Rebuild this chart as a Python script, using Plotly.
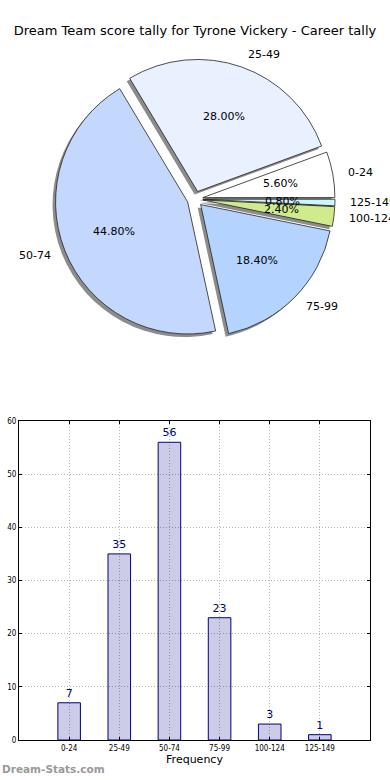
import math
import plotly.graph_objects as go

categories = ["0-24", "25-49", "50-74", "75-99", "100-124", "125-149"]
counts = [7, 35, 56, 23, 3, 1]
slice_colors = ["#ffffff", "#e9f1fe", "#c4d8fe", "#b4d4ff", "#d0eb8c", "#ccf6ff"]
title_text = "Dream Team score tally for Tyrone Vickery - Career tally"
y_ticks = [0, 10, 20, 30, 40, 50, 60]

W, H = 390, 780
FONT = "DejaVu Sans"

total = sum(counts)
# first slice starts at 3 o'clock and runs counter-clockwise (matplotlib style)
start_rot = 90 - 360 * counts[0] / total
# mid-angle of each slice (degrees, from 3 o'clock, counter-clockwise)
mid_theta = []
acc = 0
for c in counts:
    mid_theta.append(360 * (acc + c / 2) / total)
    acc += c
pct_text = [f"{100 * c / total:.2f}%" for c in counts]

EXPLODE = 0.06
cx, cy, half = 195, 199, 140
def dom(cx, cy, half):
    return dict(x=[(cx - half) / W, (cx + half) / W],
                y=[(H - cy - half) / H, (H - cy + half) / H])

pull = [EXPLODE] * len(categories)

fig = go.Figure()

# shadow
fig.add_trace(go.Pie(
    labels=categories, values=counts, sort=False, direction="counterclockwise",
    rotation=start_rot, pull=pull, domain=dom(cx - 3, cy + 3, half),
    marker=dict(colors=["#8c8c8c"] * 6, line=dict(width=0)),
    textinfo="none", hoverinfo="skip", showlegend=False,
))
# main pie
fig.add_trace(go.Pie(
    labels=categories, values=counts, sort=False, direction="counterclockwise",
    rotation=start_rot, pull=pull, domain=dom(cx, cy, half),
    marker=dict(colors=slice_colors, line=dict(color="#222222", width=0.8)),
    textinfo="none", showlegend=False,
))

# bar chart
fig.add_trace(go.Bar(
    x=categories, y=counts, width=0.45,
    marker=dict(color="rgba(0,0,128,0.2)", line=dict(color="#000080", width=1)),
    text=[str(c) for c in counts], textposition="outside",
    textfont=dict(family=FONT, size=11, color="#000080"),
    cliponaxis=False, xaxis="x", yaxis="y", showlegend=False,
))

# pie text labels placed on a hidden axis pair overlaying the pie (unit = pie radius)
annotations = []
for cat, pct, t in zip(categories, pct_text, mid_theta):
    ca, sa = math.cos(math.radians(t)), math.sin(math.radians(t))
    rp = 0.6 + EXPLODE
    annotations.append(dict(text=pct, xref="x2", yref="y2", x=rp * ca, y=rp * sa,
                            xanchor="center", yanchor="middle", showarrow=False,
                            font=dict(family=FONT, size=11, color="#000000")))
    rl = 1.1 + EXPLODE
    annotations.append(dict(text=cat, xref="x2", yref="y2", x=rl * ca, y=rl * sa,
                            xanchor="left" if ca >= 0 else "right", yanchor="middle",
                            showarrow=False,
                            font=dict(family=FONT, size=11, color="#000000")))
annotations.append(dict(text="<b>Dream-Stats.com</b>", xref="paper", yref="paper",
                        x=0, y=3 / H, xanchor="left", yanchor="bottom", showarrow=False,
                        font=dict(family=FONT, size=10.5, color="#999999")))

# label axes: same centre as the pie, unit length = pie radius, wide enough for labels
radius_px = half / (1 + EXPLODE)
lim = 1.3
ld = dom(cx, cy, radius_px * lim)

fig.update_layout(
    width=W, height=H,
    margin=dict(l=0, r=0, t=0, b=0, autoexpand=False),
    paper_bgcolor="white", plot_bgcolor="rgba(0,0,0,0)",
    font=dict(family=FONT, color="#000000"),
    title=dict(text=title_text, x=0.5, xanchor="center", y=1 - 30 / H, yanchor="middle",
               font=dict(family=FONT, size=13, color="#000000")),
    xaxis=dict(domain=[19 / W, 370 / W], range=[-1, 6], type="category",
               showline=True, linecolor="#000000", linewidth=1, mirror="ticks",
               showgrid=True, gridcolor="#b4b4b4", griddash="1px,2px", gridwidth=1,
               ticks="inside", ticklen=3, tickcolor="#000000",
               tickfont=dict(family="DejaVu Sans Condensed", size=8),
               title=dict(text="Frequency", font=dict(family=FONT, size=11), standoff=2),
               automargin=False, anchor="y", fixedrange=True),
    yaxis=dict(domain=[40 / H, 359 / H], range=[0, 60], tickvals=y_ticks,
               showline=True, linecolor="#000000", linewidth=1, mirror="ticks",
               showgrid=True, gridcolor="#b4b4b4", griddash="1px,2px", gridwidth=1,
               ticks="inside", ticklen=3, tickcolor="#000000",
               tickfont=dict(family="DejaVu Sans Condensed", size=8),
               automargin=False, zeroline=False, anchor="x", fixedrange=True),
    xaxis2=dict(domain=ld["x"], range=[-lim, lim], visible=False, anchor="y2",
                fixedrange=True, automargin=False),
    yaxis2=dict(domain=ld["y"], range=[-lim, lim], visible=False, anchor="x2",
                fixedrange=True, automargin=False),
    annotations=annotations,
)

fig.write_html("out.html", config={"displayModeBar": False},
               post_script="document.body.style.margin='0';document.body.style.overflow='hidden';")
